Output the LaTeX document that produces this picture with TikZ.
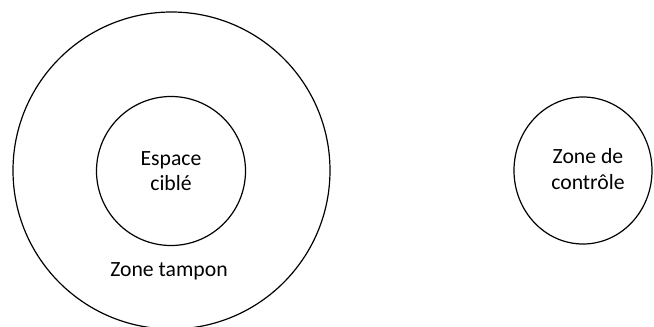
\documentclass[tikz,border=0pt]{standalone}
\usepackage{fontspec}
\setmainfont{Carlito}
\usetikzlibrary{shapes.geometric}
\begin{document}
\begin{tikzpicture}[x=1pt,y=-1pt,
  ring/.style={draw=black,line width=1.2pt,circle,inner sep=0pt,align=center,
    font=\fontsize{21.7}{25.5}\selectfont},
  lbl/.style={font=\fontsize{21.7}{25.5}\selectfont,inner sep=0pt}]
\useasboundingbox (0,0) rectangle (654,327);
\begin{scope}
\clip (0,0) rectangle (654,327);
\node[ring,minimum size=317pt] (tampon) at (171.5,170.5) {};
\node[ring,minimum size=149pt] (cible) at (171,171) {Espace\\ciblé};
\node[ring,ellipse,minimum width=138pt,minimum height=147pt] (controle) at (583,170.5) {};
\end{scope}
\node[lbl,align=center] (ctext) at (588,169) {Zone de\\contrôle};
\node[lbl,anchor=base] (zt) at (169,276) {Zone tampon};
\end{tikzpicture}
\end{document}
